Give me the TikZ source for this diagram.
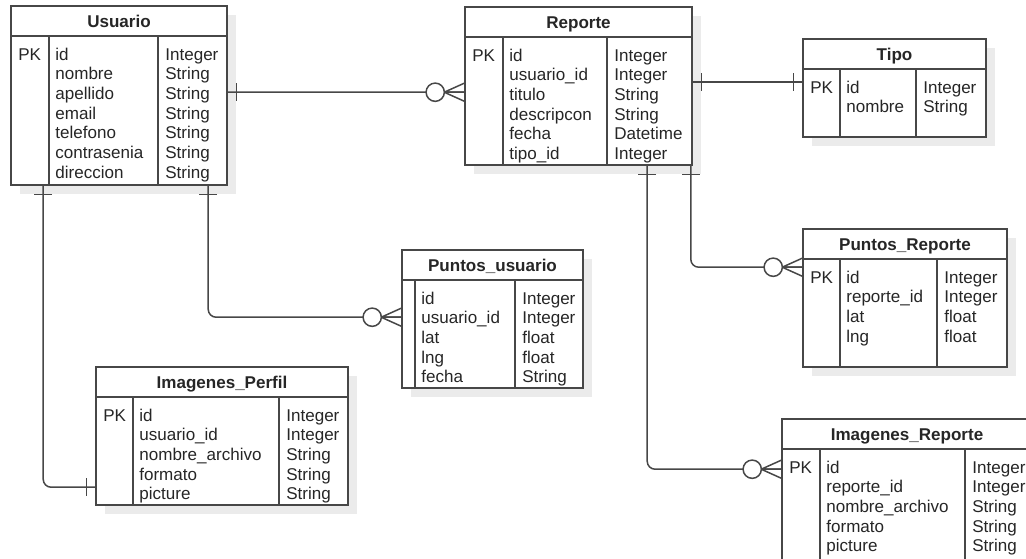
\documentclass[tikz,border=0pt]{standalone}
\usepackage{fontspec}
\setmainfont{Liberation Sans}
\usetikzlibrary{calc,fit,decorations.markings}

% table: name, x1, y1, x2, y2, pk-column x, type-column x, title, rows
\newcommand{\ertabla}[9]{%
  \fill[sombra] (#2+9,#3+9) rectangle (#4+9,#5+9);
  \path (#2,#3) coordinate (#1-nw) (#4,#5) coordinate (#1-se);
  \node[tabla,fit=(#1-nw)(#1-se)] (#1) {};
  \node[titulo] (#1-tit) at ({(#2+#4)/2},#3+21) {#8};
  \draw[borde] (#2,#3+30) -- (#4,#3+30) (#6,#3+30) -- (#6,#5) (#7,#3+30) -- (#7,#5);
  \foreach \k/\f/\t [count=\i] in {#9} {
    \node[campo] (#1-k\i) at (#2+7,#3+34.3+19.7*\i) {\k};
    \node[campo] (#1-f\i) at (#6+6,#3+34.3+19.7*\i) {\f};
    \node[campo] (#1-t\i) at (#7+7,#3+34.3+19.7*\i) {\t};
  }%
}

\begin{document}
\begin{tikzpicture}[x=0.02cm,y=-0.02cm,font=\fontsize{9.7}{11}\selectfont,
  sombra/.style={fill=black!8},
  tabla/.style={draw=black!72,fill=white,line width=.9pt,inner sep=0pt},
  borde/.style={draw=black!72,line width=.9pt},
  titulo/.style={anchor=base,inner sep=0pt,text=black!85,font=\fontsize{9.7}{11}\selectfont\bfseries},
  campo/.style={anchor=base west,inner sep=0pt,text=black!85},
  rel/.style={draw=black!72,line width=.85pt,rounded corners=4.5pt},
  marca/.style={draw=black!72,line width=.85pt,rounded corners=0pt},
  uno ini/.style={postaction={decorate,decoration={markings,
    mark=at position 5pt with {\draw[marca] (0,-9) -- (0,9);}}}},
  uno fin/.style={postaction={decorate,decoration={markings,
    mark=at position -5pt with {\draw[marca] (0,-9) -- (0,9);}}}},
  ceromuchos/.style={postaction={decorate,decoration={markings,
    mark=at position 1 with {\draw[marca] (-20,0) -- (0,9) (-20,0) -- (0,0) (-20,0) -- (0,-9);
      \draw[marca,fill=white] (-29,0) circle (5.2pt);}}}}]
\useasboundingbox (0,0) rectangle (1026,558);
\fill[white] (0,0) rectangle (1026,558);
\clip (0,0) rectangle (1026,558);

\ertabla{usu}{11}{6}{227}{185}{49}{158}{Usuario}{PK/id/Integer, /nombre/String, /apellido/String, /email/String, /telefono/String, /contrasenia/String, /direccion/String}
\ertabla{rep}{465}{7}{692}{165}{503}{607}{Reporte}{PK/id/Integer, /usuario\_id/Integer, /titulo/String, /descripcon/String, /fecha/Datetime, /tipo\_id/Integer}
\ertabla{tipo}{803}{39}{986}{137}{840}{916}{Tipo}{PK/id/Integer, /nombre/String}
\ertabla{pu}{402}{250}{583}{388}{415}{515}{Puntos\_usuario}{/id/Integer, /usuario\_id/Integer, /lat/float, /lng/float, /fecha/String}
\ertabla{ip}{96}{367}{348}{505}{133}{279}{Imagenes\_Perfil}{PK/id/Integer, /usuario\_id/Integer, /nombre\_archivo/String, /formato/String, /picture/String}
\ertabla{pr}{803}{229}{1007}{367}{840}{937}{Puntos\_Reporte}{PK/id/Integer, /reporte\_id/Integer, /lat/float, /lng/float}
\ertabla{ir}{782}{419}{1032}{564}{820}{965}{Imagenes\_Reporte}{PK/id/Integer, /reporte\_id/Integer, /nombre\_archivo/String, /formato/String, /picture/String}

% relations
\draw[rel,uno ini,ceromuchos] ($(usu.north east)+(0,87)$) -- ($(rep.north west)+(0,86)$);
\draw[rel,uno ini,uno fin] ($(rep.north east)+(0,76)$) -- ($(tipo.north west)+(0,44)$);
\draw[rel,uno ini,ceromuchos] ($(usu.south west)+(198,0)$) |- ($(pu.north west)+(0,68)$);
\draw[rel,uno ini,uno fin] ($(usu.south west)+(33,0)$) |- ($(ip.north west)+(0,121)$);
\draw[rel,uno ini,ceromuchos] ($(rep.south east)+(-2,0)$) |- ($(pr.north west)+(0,39)$);
\draw[rel,uno ini,ceromuchos] ($(rep.south west)+(183,0)$) |- ($(ir.north west)+(0,51)$);
\end{tikzpicture}
\end{document}
